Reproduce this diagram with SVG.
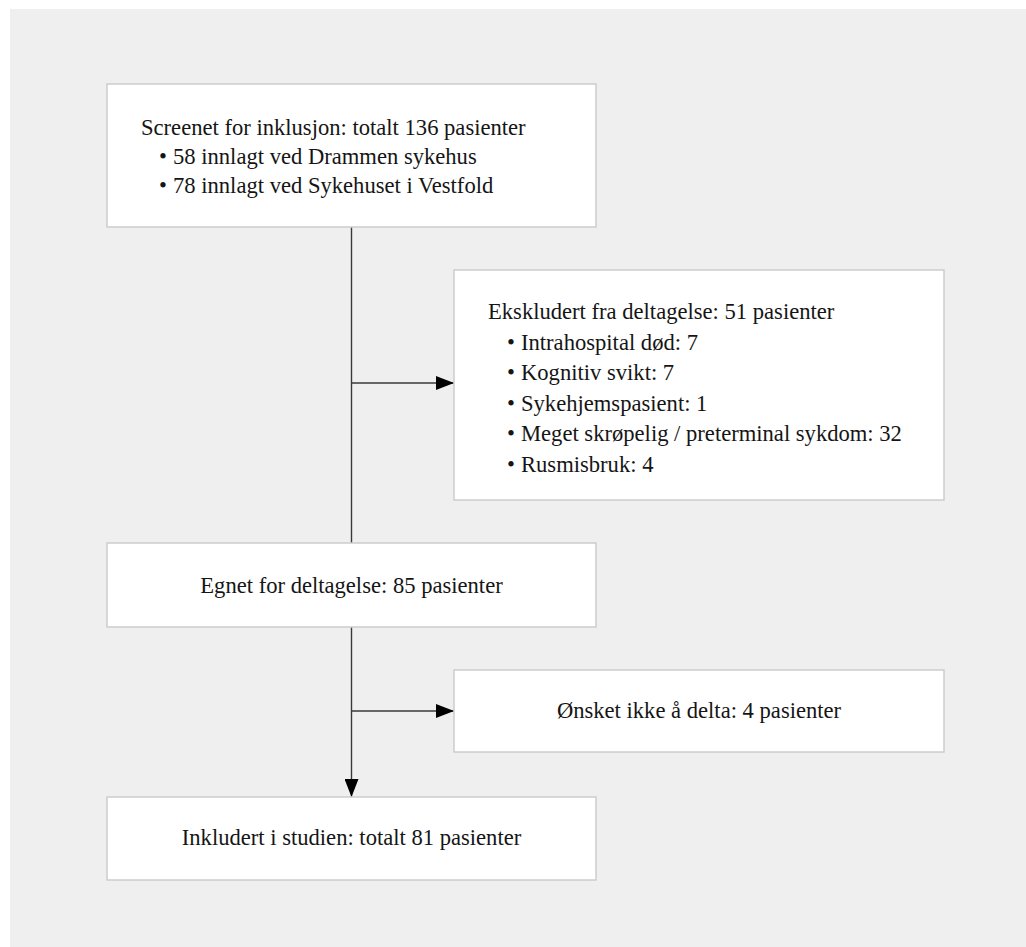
<svg xmlns="http://www.w3.org/2000/svg" width="1026" height="947" viewBox="0 0 1026 947">
<defs>
<style>
.box{fill:#ffffff;stroke:#cdcdcd;stroke-width:1.5}
.t{font-family:"Liberation Serif","Times New Roman",serif;font-size:22.6px;fill:#151515}
.c{text-anchor:middle}
.ln{stroke:#3a3a3a;stroke-width:1.4;fill:none}
</style>
<marker id="ah" markerWidth="18" markerHeight="14" refX="18" refY="7" orient="auto" markerUnits="userSpaceOnUse">
<path d="M0,0 L18,7 L0,14 Z" fill="#000"/>
</marker>
</defs>
<rect x="0" y="0" width="1026" height="947" fill="#ffffff"/>
<rect x="10" y="9" width="1016" height="938" fill="#efefef"/>
<g id="connectors">
<line class="ln" x1="351.5" y1="227" x2="351.5" y2="543"/>
<line class="ln" x1="351.5" y1="383" x2="454" y2="383" marker-end="url(#ah)"/>
<line class="ln" x1="351.5" y1="627" x2="351.5" y2="797" marker-end="url(#ah)"/>
<line class="ln" x1="351.5" y1="711" x2="454" y2="711" marker-end="url(#ah)"/>
</g>
<g id="screened">
<rect class="box" x="107" y="84" width="489" height="143"/>
<text class="t" x="141" y="135">Screenet for inklusjon: totalt 136 pasienter</text>
<text class="t" y="164"><tspan x="159">•</tspan><tspan x="173">58 innlagt ved Drammen sykehus</tspan></text>
<text class="t" y="193"><tspan x="159">•</tspan><tspan x="173">78 innlagt ved Sykehuset i Vestfold</tspan></text>
</g>
<g id="excluded">
<rect class="box" x="454" y="270" width="490" height="230"/>
<text class="t" x="488" y="319">Ekskludert fra deltagelse: 51 pasienter</text>
<text class="t" y="349.5"><tspan x="507">•</tspan><tspan x="521">Intrahospital død: 7</tspan></text>
<text class="t" y="380"><tspan x="507">•</tspan><tspan x="521">Kognitiv svikt: 7</tspan></text>
<text class="t" y="410.5"><tspan x="507">•</tspan><tspan x="521">Sykehjemspasient: 1</tspan></text>
<text class="t" y="441"><tspan x="507">•</tspan><tspan x="521">Meget skrøpelig / preterminal sykdom: 32</tspan></text>
<text class="t" y="471.5"><tspan x="507">•</tspan><tspan x="521">Rusmisbruk: 4</tspan></text>
</g>
<g id="eligible">
<rect class="box" x="107" y="543" width="489" height="84"/>
<text class="t c" x="351.5" y="593">Egnet for deltagelse: 85 pasienter</text>
</g>
<g id="declined">
<rect class="box" x="454" y="670" width="490" height="82"/>
<text class="t c" x="699" y="718">Ønsket ikke å delta: 4 pasienter</text>
</g>
<g id="included">
<rect class="box" x="107" y="797" width="489" height="83"/>
<text class="t c" x="351.5" y="845">Inkludert i studien: totalt 81 pasienter</text>
</g>
</svg>
